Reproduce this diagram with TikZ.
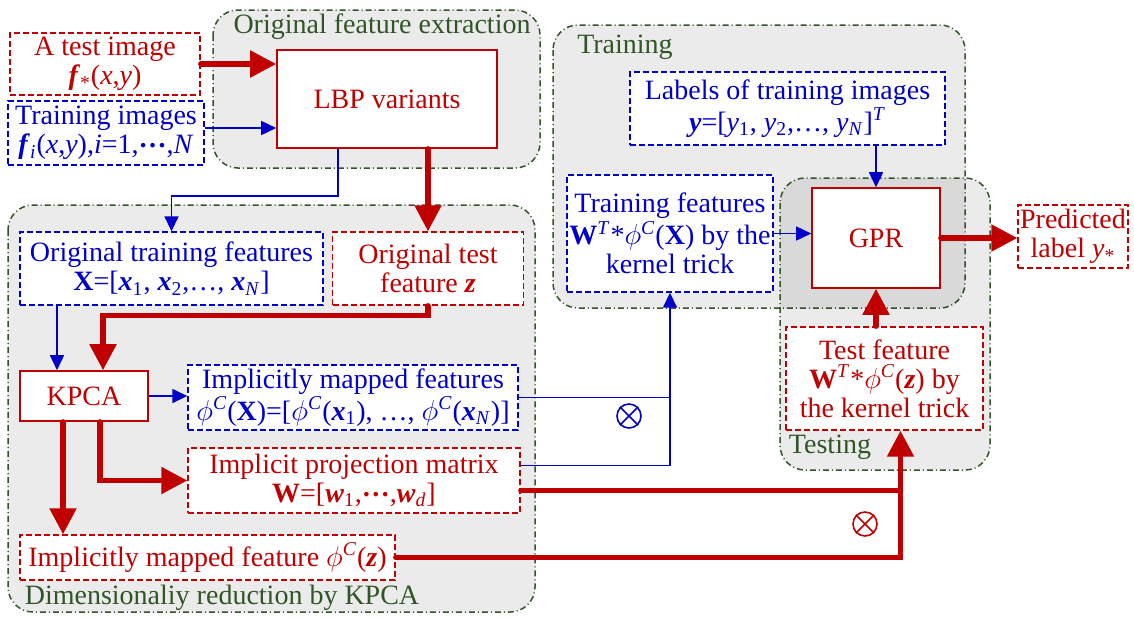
\documentclass[tikz,border=0pt]{standalone}
\usepackage{fontspec}
\setmainfont{Liberation Serif}
\usetikzlibrary{arrows.meta,calc}
\definecolor{myred}{RGB}{192,0,0}
\definecolor{myblue}{RGB}{0,0,200}
\definecolor{mygreen}{RGB}{50,85,40}
\newcommand{\bi}[1]{\textbf{\textit{#1}}}
\newcommand{\phic}{$\phi$\textsuperscript{\textit{C}}}
\newcommand{\sbs}[1]{\textsubscript{#1}}
\newcommand{\cdd}{\raisebox{0.22em}{\textbf{…}}}
\newcommand{\fs}{\fontsize{14}{14.5}\selectfont}
\begin{document}
\begin{tikzpicture}[x=0.5pt,y=-0.5pt,
  group/.style={draw=mygreen, line width=0.75pt, rounded corners=12.5pt,
    dash pattern=on 3pt off 1.5pt on 0.5pt off 1.5pt, fill=black, fill opacity=0.08},
  glabel/.style={text=mygreen, font=\fs, inner sep=0pt},
  box/.style={fill=white, align=center, inner sep=0pt, font=\fs, line width=0.7pt},
  rdash/.style={box, draw=myred, text=myred, dash pattern=on 3pt off 1.5pt},
  bdash/.style={box, draw=myblue, text=myblue, dash pattern=on 3pt off 1.5pt},
  rsolid/.style={box, draw=myred, text=myred, line width=0.8pt},
  rarr/.style={draw=myred, line width=2.6pt, line cap=round, -{Triangle[length=13pt,width=13pt]}},
  rline/.style={draw=myred, line width=2.6pt, line cap=round},
  barr/.style={draw=myblue, line width=0.8pt, -{Triangle[length=7.5pt,width=7pt]}},
  bline/.style={draw=myblue, line width=0.8pt},
  otim/.style={circle, draw=#1, line width=0.8pt, minimum size=12pt, inner sep=0pt},
]
\useasboundingbox (0,0) rectangle (1134,618);
% groups
\path[group] (213,10) rectangle (540,168);
\path[group] (553,25) rectangle (965,308);
\path[group] (8,205) rectangle (535,612);
\path[group] (780,178) rectangle (990,470);
\node[glabel] (gl1) at (382,27) {Original feature extraction};
\node[glabel] (gl2) at (625,47) {Training};
\node[glabel] (gl3) at (222,598) {Dimensionaliy reduction by KPCA};
\node[glabel] (gl4) at (830,447) {Testing};
% nodes
\node[rdash, minimum width=95pt, minimum height=31pt] (test) at (105,64)
  {A test image\\ \bi{f}\sbs{*}(\textit{x},\textit{y})};
\node[bdash, minimum width=98pt, minimum height=32pt] (train) at (106,133)
  {Training images\\ \bi{f}\sbs{\textit{i}}(\textit{x},\textit{y}),\textit{i}=1,\cdd,\textit{N}};
\node[rsolid, minimum width=110pt, minimum height=49pt] (lbp) at (387,99) {LBP variants};
\node[bdash, minimum width=151.5pt, minimum height=36.5pt] (otrain) at (171.5,268.5)
  {Original training features\\ \textbf{X}=[\bi{x}\sbs{1}, \bi{x}\sbs{2},…, \bi{x}\sbs{\textit{N}}]};
\node[rdash, minimum width=95.5pt, minimum height=36.5pt] (otest) at (428,268.5)
  {Original test\\ feature \bi{z}};
\node[rsolid, minimum width=64pt, minimum height=25pt] (kpca) at (84,396) {KPCA};
\node[bdash, minimum width=165pt, minimum height=32.5pt] (imf) at (353,397.5)
  {Implicitly mapped features\\ \phic(\textbf{X})=[\phic(\bi{x}\sbs{1}), …, \phic(\bi{x}\sbs{\textit{N}})]};
\node[rdash, minimum width=166pt, minimum height=32.5pt] (ipm) at (354,480.5)
  {Implicit projection matrix\\ \textbf{W}=[\bi{w}\sbs{1},\cdd,\bi{w}\sbs{\textit{d}}]};
\node[rdash, minimum width=187.5pt, minimum height=22.5pt] (imfz) at (207.5,557.5)
  {Implicitly mapped feature \phic(\bi{z})};
\node[bdash, minimum width=103pt, minimum height=58.5pt] (tf) at (670,233.5)
  {Training features\\ \textbf{W}\textsuperscript{\textit{T}}*\phic(\textbf{X}) by the\\ kernel trick};
\node[bdash, minimum width=157.5pt, minimum height=36.5pt] (lab) at (787.5,108.5)
  {Labels of training images\\ \bi{y}=[\textit{y}\sbs{1}, \textit{y}\sbs{2},…, \textit{y}\sbs{\textit{N}}]\textsuperscript{\textit{T}}};
\node[rsolid, minimum width=64pt, minimum height=50pt] (gpr) at (876,238) {GPR};
\node[rdash, minimum width=55pt, minimum height=31.5pt] (pred) at (1073,236.5)
  {Predicted\\ label \textit{y}\sbs{*}};
\node[rdash, minimum width=98.5pt, minimum height=51.5pt] (testf) at (884.5,378.5)
  {Test feature\\ \textbf{W}\textsuperscript{\textit{T}}*\phic(\bi{z}) by\\ the kernel trick};
\node[otim=myblue] (ox1) at (629,416) {};
\draw[myblue, line width=0.8pt] (ox1.45) -- (ox1.225) (ox1.135) -- (ox1.315);
\node[otim=myred] (ox2) at (865,524) {};
\draw[myred, line width=0.8pt] (ox2.45) -- (ox2.225) (ox2.135) -- (ox2.315);
% connectors
\draw[rarr] (test.east) -- (test.east -| lbp.west);
\coordinate (tr) at ($(train.east)+(0,-5)$);
\draw[barr] (tr) -- (tr -| lbp.west);
\draw[barr] ([xshift=-24.5pt]lbp.south) -- ++(0,47) -| (otrain.north);
\draw[rarr] (otest.north |- lbp.south) -- (otest.north);
\coordinate (kin1) at ($(kpca.north)+(-27,0)$);
\draw[barr] (kin1 |- otrain.south) -- (kin1);
\draw[rarr] (otest.south) -- ++(0,10) -| ($(kpca.north)+(19,0)$);
\draw[barr] (kpca.east) -- (kpca.east -| imf.west);
\draw[rarr] ($(kpca.south)+(16,0)$) |- (ipm.west);
\coordinate (kout2) at ($(kpca.south)+(-21,0)$);
\draw[rarr] (kout2) -- (kout2 |- imfz.north);
\coordinate (bx) at (tf.south);
\draw[bline] (imf.east) -- (imf.east -| bx);
\draw[barr] ($(ipm.east)+(0,-15)$) -| (bx);
\coordinate (rx) at ($(testf.south)+(16,0)$);
\coordinate (ipr) at ($(ipm.east)+(0,10)$);
\draw[rline] (ipr) -- (ipr -| rx);
\draw[rarr] (imfz.east) -| (rx);
\draw[barr] (gpr.north |- lab.south) -- (gpr.north);
\draw[barr] (tf.east) -- (tf.east -| gpr.west);
\draw[rarr] (gpr.east) -- (gpr.east -| pred.west);
\draw[rarr] (gpr.south |- testf.north) -- (gpr.south);
\end{tikzpicture}
\end{document}
